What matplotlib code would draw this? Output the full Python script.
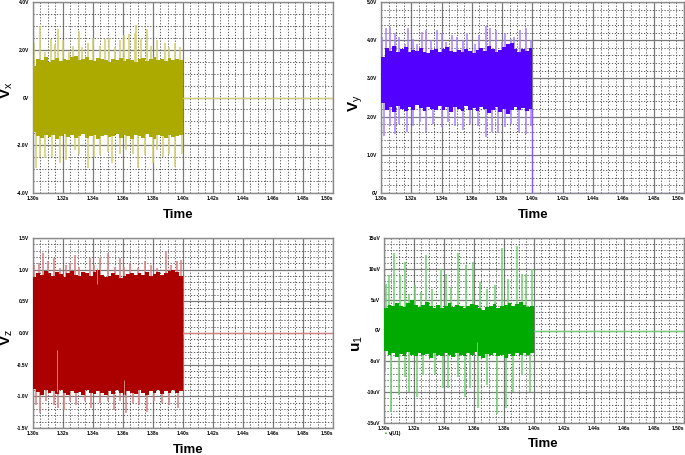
import numpy as np
import matplotlib
matplotlib.use('Agg')
import matplotlib.pyplot as plt

plt.rcParams['font.family'] = ['Liberation Sans', 'DejaVu Sans']
plt.rcParams['mathtext.fontset'] = 'custom'
plt.rcParams['mathtext.rm'] = 'Liberation Sans'
plt.rcParams['mathtext.bf'] = 'Liberation Sans:bold'

W, H = 685, 455

time_ticks = [1.30, 1.32, 1.34, 1.36, 1.38, 1.40, 1.42, 1.44, 1.46, 1.48, 1.50]
time_labels = ['1.30s', '1.32s', '1.34s', '1.36s', '1.38s', '1.40s', '1.42s', '1.44s', '1.46s', '1.48s', '1.50s']

# vx
vx_ticks = [-4, -2, 0, 2, 4]
vx_labels = ['-4.0V', '-2.0V', '0V', '2.0V', '4.0V']
vx_upper = [1.30, 1.62, 1.55, 1.70, 1.50, 1.58, 1.66, 1.52, 1.60, 1.56, 1.68, 1.72, 1.55, 1.63, 1.70, 1.58,
            1.52, 1.64, 1.60, 1.55, 1.48, 1.62, 1.58, 1.67, 1.53, 1.61, 1.57, 1.50, 1.60, 1.66, 1.54, 1.63,
            1.70, 1.56, 1.62, 1.52, 1.65, 1.58, 1.60, 1.55]
vx_lower = [-1.45, -1.62, -1.70, -1.58, -1.66, -1.55, -1.72, -1.60, -1.52, -1.64, -1.58, -1.70, -1.62, -1.54, -1.68, -1.60,
            -1.57, -1.72, -1.63, -1.55, -1.66, -1.60, -1.52, -1.70, -1.58, -1.62, -1.74, -1.56, -1.60, -1.68, -1.54, -1.65,
            -1.72, -1.58, -1.62, -1.70, -1.55, -1.64, -1.60, -1.58]
vx_up_t = [1.301, 1.305, 1.308, 1.312, 1.315, 1.317, 1.320, 1.324, 1.327, 1.331, 1.333, 1.337, 1.340, 1.345, 1.348,
           1.351, 1.355, 1.358, 1.361, 1.364, 1.368, 1.369, 1.372, 1.376, 1.379, 1.383, 1.388, 1.391, 1.395, 1.398]
vx_up_v = [2.30, 3.00, 1.90, 2.45, 2.25, 2.85, 2.40, 1.90, 2.15, 2.80, 2.10, 2.30, 2.50, 2.15, 2.45,
           2.50, 2.10, 2.40, 2.60, 2.65, 2.70, 3.05, 2.45, 2.85, 2.15, 2.40, 2.30, 2.10, 2.30, 2.10]
vx_lo_t = [1.302, 1.305, 1.308, 1.313, 1.318, 1.322, 1.328, 1.331, 1.337, 1.341, 1.345, 1.350,
           1.353, 1.358, 1.362, 1.367, 1.370, 1.375, 1.380, 1.383, 1.387, 1.391, 1.395, 1.3995]
vx_lo_v = [-2.97, -2.50, -2.55, -2.50, -2.75, -2.60, -2.20, -2.35, -2.97, -2.50, -2.40, -2.30,
           -2.75, -2.35, -2.20, -2.35, -2.97, -2.40, -2.75, -2.20, -2.50, -2.35, -2.90, -2.35]

# vy
vy_ticks = [0, 1, 2, 3, 4, 5]
vy_labels = ['0V', '1.0V', '2.0V', '3.0V', '4.0V', '5.0V']
vy_upper = [3.55, 3.80, 3.72, 3.85, 3.70, 3.78, 3.82, 3.68, 3.75, 3.72, 3.80, 3.70, 3.66, 3.74, 3.78, 3.70,
            3.76, 3.82, 3.72, 3.68, 3.75, 3.70, 3.78, 3.72, 3.66, 3.74, 3.80, 3.72, 3.85, 3.78, 3.70, 3.75,
            3.82, 3.90, 3.92, 3.76, 3.70, 3.78, 3.72, 3.80]
vy_lower = [2.35, 2.18, 2.25, 2.12, 2.28, 2.20, 2.15, 2.26, 2.18, 2.30, 2.22, 2.14, 2.25, 2.20, 2.16, 2.28,
            2.18, 2.24, 2.12, 2.26, 2.20, 2.15, 2.28, 2.18, 2.22, 2.14, 2.26, 2.20, 2.10, 2.18, 2.25, 2.12,
            2.20, 2.08, 2.16, 2.26, 2.18, 2.22, 2.14, 2.20]
vy_up_t = [1.3007, 1.303, 1.306, 1.309, 1.312, 1.316, 1.318, 1.321, 1.324, 1.327, 1.330, 1.333, 1.337, 1.340, 1.343, 1.347,
           1.350, 1.354, 1.357, 1.362, 1.365, 1.369, 1.372, 1.376, 1.380, 1.382, 1.386, 1.388, 1.392, 1.396, 1.399]
vy_up_v = [4.09, 4.31, 4.35, 4.18, 4.09, 3.91, 4.31, 4.04, 3.91, 4.22, 4.26, 4.00, 4.28, 4.18, 3.96, 4.13,
           4.09, 4.00, 4.18, 3.91, 4.13, 4.37, 4.31, 4.26, 3.96, 4.18, 4.04, 4.09, 4.26, 4.31, 4.00]
vy_lo_t = [1.302, 1.306, 1.309, 1.312, 1.317, 1.321, 1.326, 1.330, 1.334, 1.340, 1.344, 1.349,
           1.354, 1.359, 1.364, 1.369, 1.373, 1.377, 1.382, 1.386, 1.391, 1.396, 1.399]
vy_lo_v = [1.50, 1.76, 1.54, 1.81, 1.59, 1.76, 1.85, 1.59, 1.81, 1.72, 1.85, 1.76,
           1.65, 1.81, 1.76, 1.46, 1.59, 1.56, 1.72, 1.81, 1.59, 1.54, 1.76]

# vz
vz_ticks = [-1.5, -1.0, -0.5, 0.0, 0.5, 1.0, 1.5]
vz_labels = ['-1.5V', '-1.0V', '-0.5V', '0.0V', '0.5V', '1.0V', '1.5V']
vz_upper = [0.88, 0.95, 0.92, 0.98, 0.94, 0.90, 0.96, 0.93, 0.88, 0.95, 0.98, 0.92, 0.90, 0.96, 0.94, 0.90,
            0.97, 1.00, 0.92, 0.88, 0.90, 0.94, 0.92, 0.87, 0.90, 0.93, 0.95, 0.91, 0.94, 0.92, 0.96, 0.90,
            0.93, 0.97, 0.92, 0.95, 0.98, 1.00, 0.96, 0.90]
vz_lower = [-0.88, -0.93, -0.98, -0.90, -0.95, -0.92, -0.96, -0.90, -0.94, -0.98, -0.91, -0.95, -0.93, -0.98, -0.90, -0.94,
            -0.96, -0.91, -0.94, -0.98, -0.92, -0.96, -0.90, -0.95, -0.98, -0.92, -0.94, -0.96, -0.90, -0.95, -0.98, -0.92,
            -0.94, -0.90, -0.96, -0.92, -0.95, -0.90, -0.94, -0.92]
vz_up_t = [1.301, 1.304, 1.307, 1.310, 1.314, 1.318, 1.322, 1.325, 1.328, 1.331, 1.338, 1.341, 1.345, 1.350,
           1.355, 1.358, 1.361, 1.365, 1.370, 1.375, 1.379, 1.383, 1.389, 1.392, 1.396, 1.399]
vz_up_v = [1.07, 1.10, 1.26, 1.13, 1.18, 1.02, 1.07, 1.10, 1.23, 1.05, 1.18, 1.07, 1.18, 1.26,
           1.05, 1.18, 1.05, 1.10, 1.02, 1.13, 1.07, 1.02, 1.29, 1.07, 1.13, 1.15]
vz_lo_t = [1.302, 1.305, 1.309, 1.314, 1.317, 1.321, 1.325, 1.329, 1.335, 1.339, 1.345, 1.350,
           1.354, 1.358, 1.362, 1.367, 1.371, 1.376, 1.381, 1.386, 1.391, 1.397]
vz_lo_v = [-1.14, -1.27, -1.08, -1.14, -1.19, -1.22, -1.08, -1.14, -1.08, -1.19, -1.11, -1.08,
           -1.22, -1.08, -1.27, -1.11, -1.14, -1.24, -1.08, -1.11, -1.14, -1.19]
# pale streaks inside the solid band
vz_gap_t = [1.316, 1.361, 1.343]
vz_gap_lo = [-0.93, -0.98, 0.78]
vz_gap_hi = [-0.27, -0.74, 1.02]

# u1
u1_ticks = [-15, -10, -5, 0, 5, 10, 15]
u1_labels = ['-15uV', '-10uV', '-5uV', '0V', '5uV', '10uV', '15uV']
u1_upper = [3.6, 4.2, 3.9, 4.5, 4.0, 3.8, 4.4, 4.9, 4.1, 3.8, 4.2, 4.6, 4.0, 3.7, 4.1, 3.6,
            4.0, 4.4, 3.8, 4.2, 4.0, 3.7, 3.9, 4.3, 4.1, 3.6, 3.4, 3.8, 4.0, 4.3, 3.7, 3.9,
            4.2, 4.5, 4.0, 4.3, 4.6, 4.1, 3.8, 4.0]
u1_lower = [-3.4, -4.0, -3.6, -4.3, -3.8, -4.1, -3.5, -3.9, -4.2, -3.6, -4.0, -3.8, -4.4, -3.6, -3.9, -4.1,
            -3.7, -4.0, -4.3, -3.6, -3.9, -4.2, -3.7, -4.0, -3.5, -4.1, -4.4, -3.8, -4.0, -3.6, -4.2, -3.9,
            -4.5, -3.8, -4.1, -3.7, -4.0, -3.6, -3.9, -3.7]
u1_up_t = [1.3013, 1.3036, 1.307, 1.311, 1.314, 1.317, 1.321, 1.3244, 1.328, 1.332, 1.338, 1.3413, 1.345, 1.3496,
           1.3547, 1.3596, 1.364, 1.369, 1.374, 1.379, 1.383, 1.3884, 1.392, 1.3947, 1.399]
u1_up_v = [7.6, 9.0, 12.6, 9.0, 11.1, 6.0, 7.4, 6.3, 12.2, 6.8, 10.0, 9.2, 7.1, 12.6,
           10.6, 11.1, 7.9, 6.8, 7.4, 13.4, 8.4, 13.7, 9.2, 9.2, 10.0]
u1_lo_t = [1.3007, 1.305, 1.310, 1.314, 1.317, 1.322, 1.326, 1.334, 1.3396, 1.343, 1.3496, 1.354,
           1.3573, 1.363, 1.3684, 1.3756, 1.3813, 1.386, 1.392, 1.3973]
u1_lo_v = [-6.7, -13.2, -10.5, -7.5, -9.9, -10.8, -7.2, -7.0, -9.4, -9.4, -7.5, -10.8,
           -9.4, -12.6, -8.9, -13.5, -12.6, -9.9, -7.2, -9.9]
u1_gap_t = [1.3618]
u1_gap_lo = [-5.1]
u1_gap_hi = [-1.9]


def px_axes(fig, left, top, right, bottom):
    # axes rectangle given in image pixels
    return fig.add_axes([left / W, 1 - bottom / H, (right - left) / W, (bottom - top) / H])


def draw_panel(fig, box, ticks, labels, minor_div, upper, lower, up_t, up_v, lo_t, lo_v,
               color, light, flat, gap=None):
    ax = px_axes(fig, *box)
    ax.set_xlim(1.30, 1.50)
    ax.set_ylim(ticks[0], ticks[-1])
    ax.set_axisbelow(True)

    # grid: solid majors, dotted minors
    ax.set_xticks(time_ticks)
    ax.set_xticklabels(time_labels, fontsize=3.6, fontweight='bold')
    ax.get_xticklabels()[-1].set_ha('right')
    ax.set_yticks(ticks)
    ax.set_yticklabels(labels, fontsize=3.6, fontweight='bold')
    step = ticks[1] - ticks[0]
    ax.set_xticks(np.arange(1.30, 1.5001, 0.02 / 4), minor=True)
    ax.set_yticks(np.arange(ticks[0], ticks[-1] + step / 100, step / minor_div), minor=True)
    ax.grid(True, which='major', color='#7a7a7a', linewidth=0.9)
    ax.grid(True, which='minor', color='#444444', linewidth=0.6, linestyle=(0, (1.5, 2)))
    ax.tick_params(which='both', length=0, pad=2.5)
    for s in ax.spines.values():
        s.set_color('#8a8a8a')
        s.set_linewidth(1.0)

    # envelope of the ripple up to 1.40s, spikes sticking out of it
    edges = np.linspace(1.30, 1.40, len(upper) + 1)
    mid = 0.5 * (np.mean(upper) + np.mean(lower))
    ax.vlines(up_t, mid, up_v, color=light, linewidth=1.1, zorder=2)
    ax.vlines(lo_t, mid, lo_v, color=light, linewidth=1.1, zorder=2)
    ax.fill_between(edges, upper + [upper[-1]], lower + [lower[-1]], step='post', color=color, linewidth=0, zorder=3)
    if gap is not None:
        ax.vlines(gap[0], gap[1], gap[2], color=light, linewidth=0.7, zorder=4)

    # flat after the output is switched off
    ax.plot([1.40, 1.50], [flat, flat], color=light, linewidth=0.9)
    return ax


fig = plt.figure(figsize=(W / 100, H / 100), dpi=100)

draw_panel(fig, (32.5, 2, 333, 193), vx_ticks, vx_labels, 4, vx_upper, vx_lower, vx_up_t, vx_up_v, vx_lo_t, vx_lo_v,
           '#aca900', '#d2d070', 0)
ax2 = draw_panel(fig, (381, 2, 684, 193), vy_ticks, vy_labels, 5, vy_upper, vy_lower, vy_up_t, vy_up_v, vy_lo_t, vy_lo_v,
                 '#5200ff', '#a884ff', 0)
ax2.plot([1.40, 1.40], [0, 2.2], color='#8a5cff', linewidth=0.9)
draw_panel(fig, (32.5, 238, 333, 428), vz_ticks, vz_labels, 5, vz_upper, vz_lower, vz_up_t, vz_up_v, vz_lo_t, vz_lo_v,
           '#ac0000', '#d98080', 0, gap=(vz_gap_t, vz_gap_lo, vz_gap_hi))
draw_panel(fig, (384, 238, 684, 423), u1_ticks, u1_labels, 5, u1_upper, u1_lower, u1_up_t, u1_up_v, u1_lo_t, u1_lo_v,
           '#00aa00', '#70cf70', 0, gap=(u1_gap_t, u1_gap_lo, u1_gap_hi))

# axis titles placed by hand
for x, y in [(178, 215), (533, 215), (188, 450), (543, 444)]:
    fig.text(x / W, 1 - y / H, 'Time', fontsize=9.5, fontweight='bold', ha='center', va='center')
for x, y, s in [(7, 90, r'$\mathbf{V}_{\mathrm{x}}$'), (356, 103, r'$\mathbf{V}_{\mathrm{y}}$'),
                (7, 337, r'$\mathbf{V}_{\mathrm{z}}$'), (358, 344, r'$\mathbf{u}_{\mathrm{1}}$')]:
    fig.text(x / W, 1 - y / H, s, fontsize=11, rotation=90, ha='center', va='center')

# probe legend under the last panel
fig.text(386 / W, 1 - 433.5 / H, '\u25aa', color='#00aa00', fontsize=4, ha='center', va='center')
fig.text(388.5 / W, 1 - 433.5 / H, 'v(U1)', fontsize=3.6, fontweight='bold', ha='left', va='center')

fig.savefig('out.png', dpi=100)
